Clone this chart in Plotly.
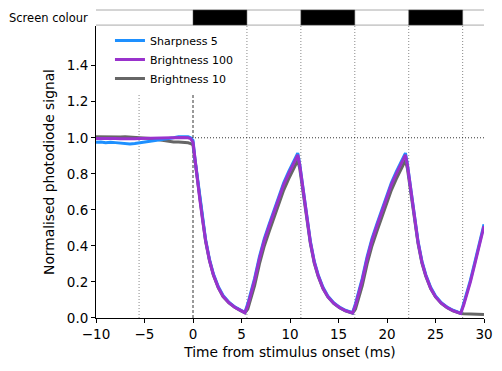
import plotly.graph_objects as go

# ---------------- data ----------------
time_ms = [
    -10.0, -9.5, -9.0, -8.5, -8.0, -7.5, -7.0, -6.5, -6.0, -5.5,
    -5.0, -4.5, -4.0, -3.5, -3.0, -2.5, -2.0, -1.5, -1.0, -0.5, -0.25, 0.0,
    0.2, 0.4, 0.7, 1.0, 1.3, 1.7, 2.1, 2.6, 3.1, 3.7, 4.3, 4.9, 5.35,
    5.65, 5.95, 6.35, 6.85, 7.35, 7.85, 8.35, 8.85, 9.35, 9.85, 10.35, 10.8,
    11.0, 11.2, 11.5, 11.8, 12.1, 12.5, 12.9, 13.4, 13.9, 14.5, 15.1, 15.7, 16.45,
    16.75, 17.05, 17.45, 17.95, 18.45, 18.95, 19.45, 19.95, 20.45, 20.95, 21.45, 21.9,
    22.1, 22.3, 22.6, 22.9, 23.2, 23.6, 24.0, 24.5, 25.0, 25.6, 26.2, 26.8, 27.6,
    27.9, 28.2, 28.6, 29.1, 29.6, 30.0,
]

sharpness_5 = [
    0.975, 0.976, 0.972, 0.975, 0.973, 0.970, 0.968, 0.965, 0.968, 0.972,
    0.975, 0.977, 0.980, 0.985, 0.990, 0.995, 1.000, 1.005, 1.006, 1.005, 1.000, 0.985,
    0.885, 0.805, 0.665, 0.545, 0.435, 0.325, 0.245, 0.175, 0.125, 0.088, 0.062, 0.044, 0.031,
    0.080, 0.140, 0.220, 0.340, 0.440, 0.520, 0.600, 0.680, 0.750, 0.810, 0.870, 0.915,
    0.855, 0.775, 0.645, 0.525, 0.425, 0.315, 0.240, 0.170, 0.122, 0.085, 0.060, 0.043, 0.029,
    0.080, 0.140, 0.220, 0.340, 0.440, 0.520, 0.600, 0.680, 0.750, 0.810, 0.870, 0.915,
    0.855, 0.775, 0.645, 0.525, 0.425, 0.315, 0.240, 0.170, 0.122, 0.085, 0.060, 0.043, 0.027,
    0.080, 0.130, 0.210, 0.320, 0.430, 0.520,
]

brightness_100 = [
    0.996, 0.997, 0.995, 0.997, 0.996, 0.995, 0.994, 0.993, 0.995, 0.996,
    0.997, 0.997, 0.998, 0.998, 0.999, 1.000, 1.000, 1.001, 1.001, 1.000, 0.995, 0.975,
    0.880, 0.800, 0.660, 0.540, 0.430, 0.320, 0.240, 0.170, 0.120, 0.085, 0.060, 0.042, 0.030,
    0.070, 0.130, 0.210, 0.330, 0.430, 0.510, 0.590, 0.670, 0.740, 0.800, 0.860, 0.905,
    0.850, 0.770, 0.640, 0.520, 0.420, 0.310, 0.235, 0.165, 0.118, 0.082, 0.058, 0.041, 0.028,
    0.070, 0.130, 0.210, 0.330, 0.430, 0.510, 0.590, 0.670, 0.740, 0.800, 0.860, 0.905,
    0.850, 0.770, 0.640, 0.520, 0.420, 0.310, 0.235, 0.165, 0.118, 0.082, 0.058, 0.041, 0.026,
    0.070, 0.120, 0.200, 0.310, 0.420, 0.510,
]

brightness_10 = [
    1.006, 1.005, 1.007, 1.005, 1.006, 1.004, 1.005, 1.003, 1.002, 1.001,
    1.000, 0.997, 0.994, 0.989, 0.984, 0.980, 0.977, 0.976, 0.975, 0.972, 0.968, 0.960,
    0.875, 0.795, 0.655, 0.535, 0.425, 0.318, 0.238, 0.168, 0.119, 0.084, 0.059, 0.041, 0.029,
    0.050, 0.100, 0.180, 0.300, 0.400, 0.480, 0.560, 0.640, 0.710, 0.770, 0.830, 0.875,
    0.830, 0.755, 0.630, 0.512, 0.413, 0.305, 0.232, 0.163, 0.117, 0.081, 0.057, 0.040, 0.027,
    0.050, 0.100, 0.180, 0.300, 0.400, 0.480, 0.560, 0.640, 0.710, 0.770, 0.830, 0.875,
    0.830, 0.755, 0.630, 0.512, 0.413, 0.305, 0.232, 0.163, 0.117, 0.081, 0.057, 0.040, 0.025,
    0.024, 0.024, 0.023, 0.022, 0.021, 0.020,
]

# screen colour (black periods) and frame transitions, ms
black_start = [0.0, 11.12, 22.24]
black_end = [5.56, 16.68, 27.80]
frame_edges = [-5.56, 5.56, 11.12, 16.68, 22.24, 27.80]
stim_onset = 0.0

x_ticks = [-10, -5, 0, 5, 10, 15, 20, 25, 30]
y_ticks = [0.0, 0.2, 0.4, 0.6, 0.8, 1.0, 1.2, 1.4]

# ---------------- figure ----------------
# the page body has an 8px margin, so the figure is sized 8px smaller
MAIN_TOP = 0.948   # top of the main axes in paper coords
BAR_BOT, BAR_TOP = 0.951, 1.0

fig = go.Figure()

series = [
    ("Brightness 10", brightness_10, "#666666", 3),
    ("Sharpness 5", sharpness_5, "#1E90FF", 1),
    ("Brightness 100", brightness_100, "#9932CC", 2),
]
for name, vals, col, rank in series:
    fig.add_trace(go.Scatter(
        x=time_ms, y=vals, mode="lines", name=name,
        line=dict(color=col, width=3), legendrank=rank,
    ))

shapes = []
for fx in frame_edges:
    shapes.append(dict(type="line", xref="x", yref="paper", x0=fx, x1=fx,
                       y0=0, y1=MAIN_TOP, layer="below",
                       line=dict(color="#888888", width=1, dash="1px,2px")))
shapes.append(dict(type="line", xref="x", yref="paper", x0=stim_onset, x1=stim_onset,
                   y0=0, y1=MAIN_TOP, layer="below",
                   line=dict(color="black", width=0.8, dash="3px,2px")))
shapes.append(dict(type="line", xref="paper", yref="y", x0=0, x1=1, y0=1.0, y1=1.0,
                   layer="below", line=dict(color="black", width=0.8, dash="1px,2px")))
# screen colour bar
for yy in (BAR_BOT, BAR_TOP):
    shapes.append(dict(type="line", xref="paper", yref="paper", x0=0, x1=1,
                       y0=yy, y1=yy, line=dict(color="#aaaaaa", width=1)))
for s, e in zip(black_start, black_end):
    shapes.append(dict(type="rect", xref="x", yref="paper", x0=s, x1=e,
                       y0=BAR_BOT, y1=BAR_TOP, fillcolor="black",
                       line=dict(color="#555555", width=0.5)))

fig.update_layout(
    width=494, height=363,
    margin=dict(l=88, r=18, t=2, b=53, autoexpand=False),
    paper_bgcolor="white", plot_bgcolor="white",
    font=dict(family="DejaVu Sans", size=14, color="black"),
    shapes=shapes,
    showlegend=True,
    legend=dict(x=0.036, y=MAIN_TOP, xanchor="left", yanchor="top",
                bgcolor="white", borderwidth=0,
                font=dict(size=11), tracegroupgap=0),
    annotations=[dict(text="Screen colour", xref="paper", yref="paper",
                      x=0, y=(BAR_BOT + BAR_TOP) / 2, xanchor="right",
                      yanchor="middle", xshift=-6, showarrow=False,
                      font=dict(size=11.5))],
    xaxis=dict(range=[-10, 30], tickvals=x_ticks,
               ticktext=[("\u2212" + str(-v)) if v < 0 else str(v) for v in x_ticks],
               showgrid=False, zeroline=False, showline=True, linecolor="black",
               linewidth=1, ticks="outside", ticklen=4, tickcolor="black",
               tickfont=dict(size=13.5), automargin=False,
               title=dict(text="Time from stimulus onset (ms)", standoff=6,
                          font=dict(size=13.8))),
    yaxis=dict(range=[0, 1.62], domain=[0, MAIN_TOP], tickvals=y_ticks,
               ticktext=[f"{v:.1f}" for v in y_ticks],
               showgrid=False, zeroline=False, showline=True, linecolor="black",
               linewidth=1, ticks="outside", ticklen=4, tickcolor="black",
               tickfont=dict(size=13.5), automargin=False,
               title=dict(text="Normalised photodiode signal", standoff=8,
                          font=dict(size=13.8))),
)

fig.write_html("out.html")
